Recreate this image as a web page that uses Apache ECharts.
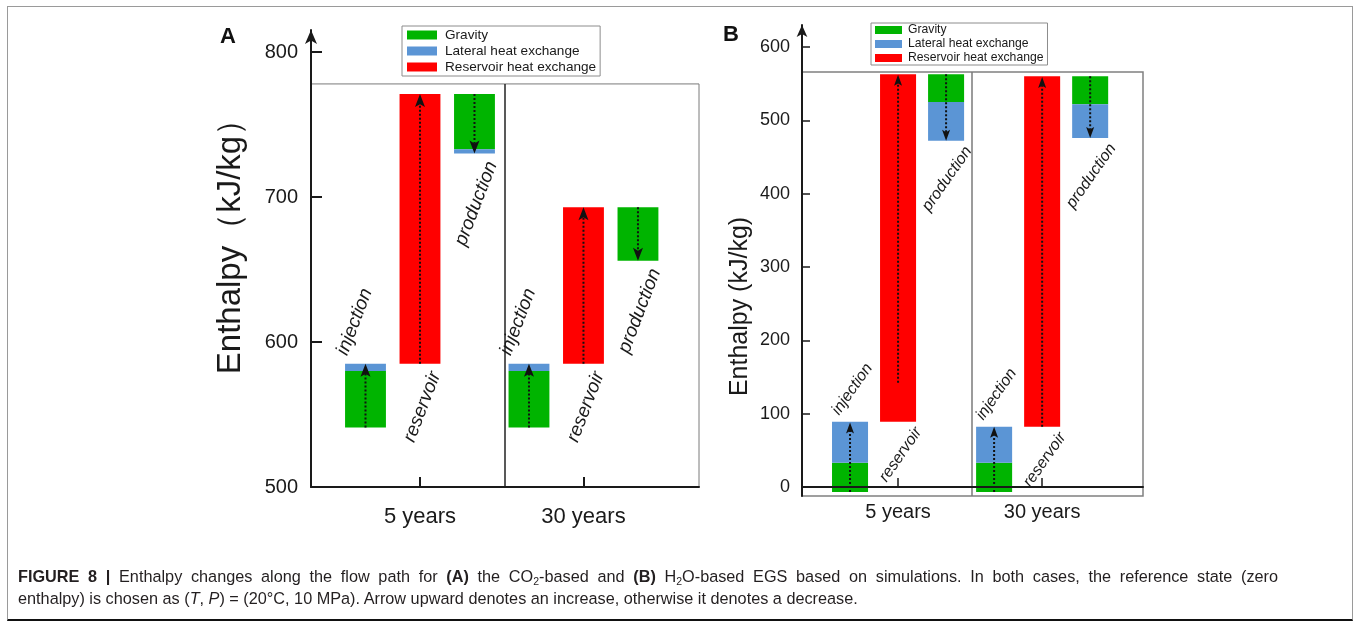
<!DOCTYPE html>
<html>
<head>
<meta charset="utf-8">
<script src="https://cdn.jsdelivr.net/npm/echarts@6/dist/echarts.min.js"></script>
<style>
html,body{margin:0;padding:0;background:#fff;}
#wrap{position:relative;width:1356px;height:621px;overflow:hidden;background:#fff;}
#chart{position:absolute;left:0;top:0;width:1356px;height:621px;}
#frame{position:absolute;left:7px;top:6px;width:1346px;height:615px;box-sizing:border-box;border:1px solid #9a9a9a;border-bottom:2px solid #111;pointer-events:none;}
#caption{position:absolute;left:18px;top:565px;font-family:'Liberation Sans',Arial,sans-serif;font-size:16.25px;line-height:22px;color:#231f20;white-space:nowrap;}
#caption .l1{width:1260px;text-align:justify;text-align-last:justify;white-space:normal;}
#caption sub{font-size:10.5px;vertical-align:-3px;line-height:0;}
</style>
</head>
<body>
<div id="wrap">
  <div id="chart"></div>
  <div id="frame"></div>
  <div id="caption"><div class="l1"><b>FIGURE 8 |</b> Enthalpy changes along the flow path for <b>(A)</b> the CO<sub>2</sub>-based and <b>(B)</b> H<sub>2</sub>O-based EGS based on simulations. In both cases, the reference state (zero</div><div>enthalpy) is chosen as (<i>T</i>, <i>P</i>) = (20°C, 10 MPa). Arrow upward denotes an increase, otherwise it denotes a decrease.</div></div>
</div>
<script>
// ---------------- data ----------------
const years = ['5 years', '30 years'];
const stages = ['injection', 'reservoir', 'production'];
const legendNames = ['Gravity', 'Lateral heat exchange', 'Reservoir heat exchange'];

// Panel A: CO2-based EGS, enthalpy (kJ/kg); one [from, to] pair per year (5 y, 30 y)
const aInjectionGravity  = [[541, 580], [541, 580]];
const aInjectionLateral  = [[580, 585], [580, 585]];
const aReservoirHeat     = [[585, 771], [585, 693]];
const aProductionGravity = [[771, 733], [693, 656]];
const aProductionLateral = [[733, 730], [656, 656]];
const aArrowInjection    = [[541, 585], [541, 585]];
const aArrowReservoir    = [[585, 771], [585, 693]];
const aArrowProduction   = [[771, 730], [693, 656]];
const aTicks = [500, 600, 700, 800];

// Panel B: H2O-based EGS, enthalpy (kJ/kg)
const bInjectionGravity  = [[-7, 33], [-7, 33]];
const bInjectionLateral  = [[33, 89], [33, 82]];
const bReservoirHeat     = [[89, 563], [82, 560]];
const bProductionGravity = [[563, 525], [560, 522]];
const bProductionLateral = [[525, 472], [522, 476]];
const bArrowInjection    = [[-7, 88], [-7, 82]];
const bArrowReservoir    = [[142, 562], [82, 559]];
const bArrowProduction   = [[563, 472], [560, 476]];
const bTicks = [0, 100, 200, 300, 400, 500, 600];

// ---------------- helpers ----------------
const FONT = 'Liberation Sans';
const slot = (yearIdx, stageIdx) => yearIdx * 3 + stageIdx + 1;
const yearTickValues = years.map((_, i) => slot(i, 1));
const seg = (pairs, stageIdx) => pairs.map((p, y) => [slot(y, stageIdx), p[0], p[1]]);
const HALF = 0.375;

function renderBar(params, api) {
  const x = api.value(0), a = api.value(1), b = api.value(2);
  const p1 = api.coord([x - HALF, Math.max(a, b)]);
  const p2 = api.coord([x + HALF, Math.min(a, b)]);
  return { type: 'rect', shape: { x: p1[0], y: p1[1], width: p2[0] - p1[0], height: p2[1] - p1[1] },
           style: { fill: api.visual('color') } };
}
function makeArrow(headW, headL, lw) {
  return function (params, api) {
    const x = api.value(0), a = api.value(1), b = api.value(2);
    const s = api.coord([x, a]), e = api.coord([x, b]);
    const dir = e[1] < s[1] ? -1 : 1;
    const baseY = e[1] - dir * headL;
    const notchY = e[1] - dir * headL * 0.78;
    return { type: 'group', children: [
      { type: 'line', shape: { x1: s[0], y1: s[1], x2: s[0], y2: notchY },
        style: { stroke: '#111', lineWidth: lw, lineDash: [2, 2] } },
      { type: 'polygon', shape: { points: [[e[0], e[1]], [e[0] - headW / 2, baseY], [e[0], notchY], [e[0] + headW / 2, baseY]] },
        style: { fill: '#111' } }
    ] };
  };
}
function makeLabel(cfg) {
  return function (params, api) {
    const x = api.value(0), y = api.value(1), st = api.value(2);
    const base = { text: stages[st], fontSize: cfg.size, fontStyle: 'italic', fontFamily: FONT, fill: '#1a1a1a', verticalAlign: 'bottom' };
    if (st === 0) {
      const p = api.coord([x - HALF, y]);
      return { type: 'text', x: p[0] + cfg.injDx, y: p[1] - cfg.injDy, rotation: cfg.rot * Math.PI / 180,
               style: Object.assign({ align: 'left' }, base) };
    }
    const p = api.coord([x + HALF, y]);
    const dx = st === 1 ? cfg.resDx : cfg.proDx;
    return { type: 'text', x: p[0] + dx, y: p[1] + cfg.belDy, rotation: cfg.rot * Math.PI / 180,
             style: Object.assign({ align: 'right' }, base) };
  };
}
function labelData(inj, res, prodLat) {
  const out = [];
  years.forEach((_, y) => {
    out.push([slot(y, 0), Math.max(inj[y][0], inj[y][1]), 0]);
    out.push([slot(y, 1), Math.min(res[y][0], res[y][1]), 1]);
    out.push([slot(y, 2), Math.min(prodLat[y][0], prodLat[y][1]), 2]);
  });
  return out;
}

const COLORS = { Gravity: '#00b400', 'Lateral heat exchange': '#5b95d5', 'Reservoir heat exchange': '#ff0000' };

function panelSeries(gi, d, arrowCfg, labelCfg, frame) {
  const axis = { xAxisIndex: gi, yAxisIndex: gi };
  const bar = (name, data) => Object.assign({ type: 'custom', name, renderItem: renderBar, data,
    itemStyle: { color: COLORS[name] }, encode: { x: 0, y: [1, 2] }, z: 3, silent: true }, axis);
  return [
    Object.assign({ type: 'line', name: 'frame' + gi, data: [], silent: true, z: 1,
      markArea: { silent: true, itemStyle: { color: 'rgba(0,0,0,0)', borderColor: frame.color, borderWidth: frame.width },
        data: [[{ coord: [0, frame.bottom] }, { coord: [frame.right, frame.top] }]] },
      markLine: { silent: true, symbol: ['none', 'none'], label: { show: false },
        lineStyle: { color: frame.divColor, width: frame.divWidth, type: 'solid' },
        data: [[{ coord: [frame.divider, frame.bottom] }, { coord: [frame.divider, frame.top] }]] } }, axis),
    bar('Gravity', seg(d.injG, 0).concat(seg(d.prodG, 2))),
    bar('Lateral heat exchange', seg(d.injL, 0).concat(seg(d.prodL, 2))),
    bar('Reservoir heat exchange', seg(d.res, 1)),
    Object.assign({ type: 'custom', name: 'arrows' + gi, renderItem: makeArrow(arrowCfg.w, arrowCfg.l, arrowCfg.lw), silent: true, z: 5,
      data: seg(d.arI, 0).concat(seg(d.arR, 1), seg(d.arP, 2)), encode: { x: 0, y: [1, 2] } }, axis),
    Object.assign({ type: 'custom', name: 'labels' + gi, renderItem: makeLabel(labelCfg), silent: true, z: 5,
      data: labelData(d.injL, d.res, d.prodL), encode: { x: 0, y: 1 } }, axis)
  ];
}

const chart = echarts.init(document.getElementById('chart'), null, { renderer: 'canvas' });
const option = {
  animation: false,
  backgroundColor: '#fff',
  textStyle: { fontFamily: FONT },
  title: [
    { text: 'A', left: 220, top: 26, padding: 0, textStyle: { fontSize: 22, fontWeight: 'bold', color: '#111', fontFamily: FONT } },
    { text: 'B', left: 723, top: 24, padding: 0, textStyle: { fontSize: 22, fontWeight: 'bold', color: '#111', fontFamily: FONT } }
  ],
  legend: [
    { data: legendNames, orient: 'vertical', left: 402, top: 26, padding: [1, 4, 1, 5], itemGap: 0, itemWidth: 30, itemHeight: 9,
      icon: 'rect', borderColor: '#8c8c8c', borderWidth: 1, backgroundColor: '#fff', selectedMode: false,
      textStyle: { fontSize: 13.6, lineHeight: 16, color: '#1a1a1a', fontFamily: FONT, padding: [0, 0, 0, 3] } },
    { data: legendNames, orient: 'vertical', left: 871, top: 23, padding: [0, 4, 0, 4], itemGap: 0, itemWidth: 27, itemHeight: 8,
      icon: 'rect', borderColor: '#8c8c8c', borderWidth: 1, backgroundColor: '#fff', selectedMode: false,
      textStyle: { fontSize: 12.2, lineHeight: 14, color: '#1a1a1a', fontFamily: FONT, padding: [0, 0, 0, 1] } }
  ],
  grid: [
    { left: 311, top: 30, width: 388, height: 457, containLabel: false },
    { left: 802, top: 25, width: 341, height: 471, containLabel: false }
  ],
  xAxis: [
    { gridIndex: 0, type: 'value', min: 0, max: 7.12, z: 10,
      axisLine: { show: true, onZero: false, lineStyle: { color: '#1a1a1a', width: 2 } },
      axisTick: { show: true, inside: true, length: 10, customValues: yearTickValues, lineStyle: { color: '#1a1a1a', width: 2 } },
      axisLabel: { show: true, customValues: yearTickValues, margin: 19, fontSize: 22, color: '#1a1a1a', fontFamily: FONT,
        formatter: v => years[Math.round((v - 2) / 3)] },
      splitLine: { show: false } },
    { gridIndex: 1, type: 'value', min: 0, max: 7.1, z: 10,
      axisLine: { show: true, onZero: true, lineStyle: { color: '#1a1a1a', width: 2 } },
      axisTick: { show: true, inside: true, length: 9, customValues: yearTickValues, lineStyle: { color: '#1a1a1a', width: 1.5 } },
      axisLabel: { show: true, customValues: yearTickValues, margin: 6, fontSize: 20, color: '#1a1a1a', fontFamily: FONT,
        formatter: v => years[Math.round((v - 2) / 3)] },
      splitLine: { show: false } }
  ],
  yAxis: [
    { gridIndex: 0, type: 'value', min: 500, max: 815.2, z: 10,
      axisLine: { show: true, lineStyle: { color: '#1a1a1a', width: 2 }, symbol: ['none', 'arrow'], symbolSize: [9, 14] },
      axisTick: { show: true, inside: true, length: 11, customValues: aTicks, lineStyle: { color: '#1a1a1a', width: 2 } },
      axisLabel: { customValues: aTicks, fontSize: 20, margin: 13, color: '#1a1a1a', fontFamily: FONT },
      splitLine: { show: false },
      name: 'Enthalpy（kJ/kg）', nameLocation: 'middle', nameGap: 64,
      nameTextStyle: { fontSize: 33, color: '#1a1a1a', fontFamily: FONT, padding: [0, 0, 0, 40] } },
    { gridIndex: 1, type: 'value', min: -12.3, max: 630, z: 10,
      axisLine: { show: true, onZero: false, lineStyle: { color: '#1a1a1a', width: 2 }, symbol: ['none', 'arrow'], symbolSize: [8, 12] },
      axisTick: { show: true, inside: true, length: 8, customValues: bTicks, lineStyle: { color: '#1a1a1a', width: 1.5 } },
      axisLabel: { customValues: bTicks, fontSize: 18, margin: 12, color: '#1a1a1a', fontFamily: FONT },
      splitLine: { show: false },
      name: 'Enthalpy (kJ/kg)', nameLocation: 'middle', nameGap: 49,
      nameTextStyle: { fontSize: 25, color: '#1a1a1a', fontFamily: FONT, padding: [0, 92, 0, 0] } }
  ],
  series: [].concat(
    panelSeries(0,
      { injG: aInjectionGravity, injL: aInjectionLateral, res: aReservoirHeat, prodG: aProductionGravity, prodL: aProductionLateral,
        arI: aArrowInjection, arR: aArrowReservoir, arP: aArrowProduction },
      { w: 10, l: 13, lw: 2 },
      { size: 19, rot: 69, injDx: 6, injDy: 6, resDx: 4, proDx: 6, belDy: 12 },
      { bottom: 500, top: 778, right: 7.12, divider: 3.56, color: '#7a7a7a', width: 1, divColor: '#222', divWidth: 1.5 }),
    panelSeries(1,
      { injG: bInjectionGravity, injL: bInjectionLateral, res: bReservoirHeat, prodG: bProductionGravity, prodL: bProductionLateral,
        arI: bArrowInjection, arR: bArrowReservoir, arP: bArrowProduction },
      { w: 8, l: 11, lw: 2 },
      { size: 16, rot: 55, injDx: 10, injDy: 4, resDx: 9, proDx: 11, belDy: 12 },
      { bottom: -12.3, top: 566, right: 7.1, divider: 3.54, color: '#808080', width: 1.5, divColor: '#7a7a7a', divWidth: 1.5 })
  )
};
chart.setOption(option);
</script>
</body>
</html>
